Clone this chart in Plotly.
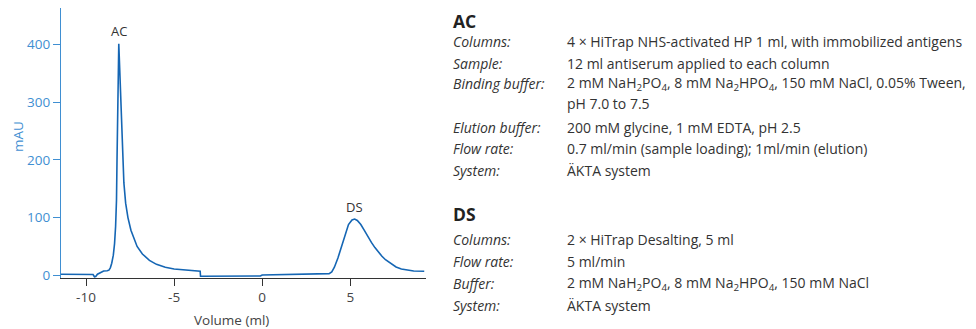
import plotly.graph_objects as go

# ---- data ----
volume_ml = [-11.42, -10.5, -9.7, -9.6, -9.52, -9.45, -9.35, -9.2, -9.0, -8.8, -8.7, -8.62,
             -8.54, -8.45, -8.38, -8.32, -8.27, -8.24, -8.21, -8.17, -8.14, -8.09, -8.03,
             -7.97, -7.92, -7.85, -7.75, -7.62, -7.45, -7.25, -7.1, -6.8, -6.4, -6.0, -5.5,
             -5.0, -4.5, -4.0, -3.6, -3.52, -3.5, -3.0, -2.0, -1.0, -0.1, 0.0, 0.5, 1.0,
             1.5, 2.0, 2.5, 3.0, 3.5, 3.8, 3.95, 4.1, 4.3, 4.5, 4.7, 4.9, 5.1, 5.25, 5.4,
             5.6, 5.8, 6.0, 6.2, 6.4, 6.6, 6.8, 7.0, 7.3, 7.6, 7.9, 8.2, 8.6, 9.2]
absorbance_mAU = [2, 2, 2, 1.5, -2.5, -2, 2, 5, 7.5, 8, 9, 13,
                  21, 35, 55, 85, 130, 200, 300, 380, 401, 360, 300,
                  245, 200, 160, 125, 100, 78, 60, 50, 37, 26, 19, 14,
                  11, 9.5, 8.5, 7.5, 7, -1.5, -1.5, -1.5, -1.5, -1.2, 0.5, 1, 1.3,
                  1.5, 1.8, 2, 2.3, 2.6, 3, 6, 14, 30, 50, 72, 88, 96, 97.5, 95,
                  88, 78, 67, 57, 48, 40, 33, 27, 20, 14.5, 11, 9, 7.5, 7]

peak_labels = ["AC", "DS"]
peak_label_x = [-8.14, 5.26]
peak_label_y = [423, 118]

x_ticks = [-10, -5, 0, 5]
x_tick_text = ["-10", "-5", "0", "5"]
y_ticks = [0, 100, 200, 300, 400]

ac_title = "AC"
ac_rows = [
    ("Columns:", "4 × HiTrap NHS-activated HP 1 ml, with immobilized antigens"),
    ("Sample:", "12 ml antiserum applied to each column"),
    ("Binding buffer:", "2 mM NaH<sub>2</sub>PO<sub>4</sub>, 8 mM Na<sub>2</sub>HPO<sub>4</sub>, 150 mM NaCl, 0.05% Tween,"),
    ("", "pH 7.0 to 7.5"),
    ("Elution buffer:", "200 mM glycine, 1 mM EDTA, pH 2.5"),
    ("Flow rate:", "0.7 ml/min (sample loading); 1ml/min (elution)"),
    ("System:", "ÄKTA system"),
]
ds_title = "DS"
ds_rows = [
    ("Columns:", "2 × HiTrap Desalting, 5 ml"),
    ("Flow rate:", "5 ml/min"),
    ("Buffer:", "2 mM NaH<sub>2</sub>PO<sub>4</sub>, 8 mM Na<sub>2</sub>HPO<sub>4</sub>, 150 mM NaCl"),
    ("System:", "ÄKTA system"),
]

# ---- layout geometry (page pixels; the page body adds an 8px offset) ----
OFF = 8
W, H = 976 - OFF, 329 - OFF
L, R, T, B = 61 - OFF, 426 - OFF, 8 - OFF, 278 - OFF
FONT = "Open Sans"
BLUE_AX = "#3f8fd2"
LINE = "#1566b4"
TXT = "#333333"

def px(xp):
    return (xp - OFF - L) / (R - L)

def py(yp):
    return (B - (yp - OFF)) / (B - T)

fig = go.Figure()
fig.add_trace(go.Scatter(x=volume_ml, y=absorbance_mAU, mode="lines",
                         line=dict(color=LINE, width=1.6), hoverinfo="skip",
                         showlegend=False))

annotations = []
for lab, lx, ly in zip(peak_labels, peak_label_x, peak_label_y):
    annotations.append(dict(x=lx, y=ly, xref="x", yref="y", text=lab, showarrow=False,
                            font=dict(family=FONT, size=13, color=TXT),
                            xanchor="center", yanchor="middle"))

# axis titles
annotations.append(dict(x=px(231), y=py(320), xref="paper", yref="paper", text="Volume (ml)",
                        showarrow=False, font=dict(family=FONT, size=13.5, color="#444"),
                        xanchor="center", yanchor="middle"))
annotations.append(dict(x=px(18), y=py(137), xref="paper", yref="paper", text="mAU",
                        showarrow=False, textangle=-90,
                        font=dict(family=FONT, size=13.5, color=BLUE_AX),
                        xanchor="center", yanchor="middle"))

LABEL_X = 451
VALUE_X = 565
TEXT_SIZE = 14

def add_block(title, rows, title_y, ys):
    annotations.append(dict(x=px(LABEL_X), y=py(title_y), xref="paper", yref="paper",
                            text="<b>" + title + "</b>", showarrow=False,
                            font=dict(family=FONT, size=17.5, color="#222"),
                            xanchor="left", yanchor="middle"))
    for (lab, val), yy in zip(rows, ys):
        if lab:
            annotations.append(dict(x=px(LABEL_X), y=py(yy), xref="paper", yref="paper",
                                    text="<i>" + lab + "</i>", showarrow=False,
                                    font=dict(family=FONT, size=TEXT_SIZE, color=TXT),
                                    xanchor="left", yanchor="middle"))
        annotations.append(dict(x=px(VALUE_X), y=py(yy), xref="paper", yref="paper",
                                text=val, showarrow=False,
                                font=dict(family=FONT, size=TEXT_SIZE, color=TXT),
                                xanchor="left", yanchor="middle"))

add_block(ac_title, ac_rows, 21, [42, 63, 84, 104, 127, 149, 171])
add_block(ds_title, ds_rows, 214, [239, 261, 283, 305])

fig.update_layout(
    width=W, height=H,
    margin=dict(l=L, r=W - R, t=T, b=H - B, autoexpand=False),
    paper_bgcolor="white", plot_bgcolor="white",
    font=dict(family=FONT, size=13, color=TXT),
    annotations=annotations,
    xaxis=dict(range=[-11.42, 9.3], tickvals=x_ticks, ticktext=x_tick_text,
               ticks="outside", ticklen=7,
               tickcolor="#333", tickwidth=1, showline=True, linecolor="#333", linewidth=1,
               showgrid=False, zeroline=False,
               tickfont=dict(family=FONT, size=13.5, color="#444")),
    yaxis=dict(range=[-4.6, 462.9], tickvals=y_ticks, ticks="outside", ticklen=7,
               tickcolor=BLUE_AX, tickwidth=1, showline=True, linecolor=BLUE_AX, linewidth=1.3,
               showgrid=False, zeroline=False,
               tickfont=dict(family=FONT, size=13.5, color=BLUE_AX)),
)

fig.write_html("out.html")
